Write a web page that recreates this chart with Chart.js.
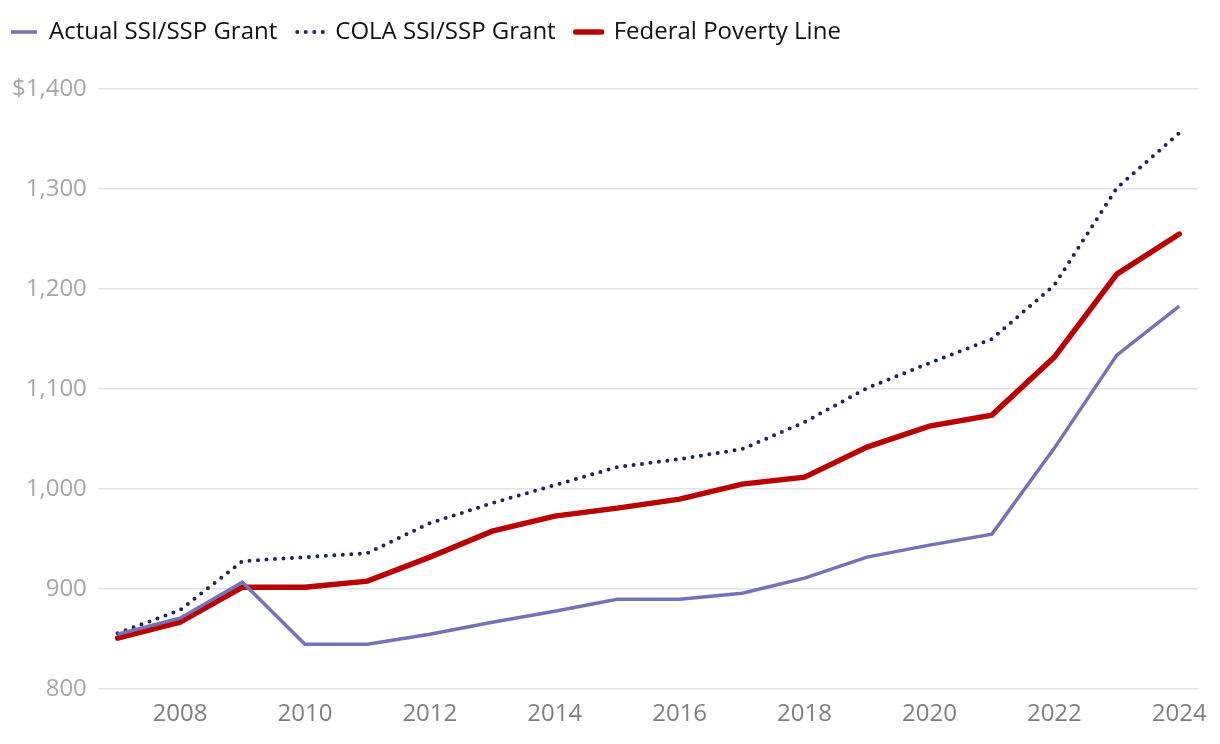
<!DOCTYPE html>
<html>
<head>
    <title>SSI/SSP Grant vs Federal Poverty Line</title>
    <script src="https://cdn.jsdelivr.net/npm/chart.js"></script>
    <style>
        html, body { margin: 0; padding: 0; background: #fff; }
        #wrap { width: 1220px; height: 744px; }
    </style>
</head>
<body>
    <div id="wrap"><canvas id="grantChart"></canvas></div>

    <script>
        const years = [2007, 2008, 2009, 2010, 2011, 2012, 2013, 2014, 2015, 2016, 2017, 2018, 2019, 2020, 2021, 2022, 2023, 2024];
        const actualGrant = [855, 871, 907, 845, 845, 855, 867, 878, 890, 890, 896, 911, 932, 944, 955, 1041, 1134, 1183];
        const colaGrant = [856, 879, 928, 932, 936, 966, 986, 1004, 1022, 1030, 1040, 1067, 1101, 1126, 1150, 1204, 1301, 1356];
        const povertyLine = [851, 867, 902, 902, 908, 932, 958, 973, 981, 990, 1005, 1012, 1042, 1063, 1074, 1132, 1215, 1255];
        const yTicks = [800, 900, 1000, 1100, 1200, 1300, 1400];

        // 组合成 {x, y}
        function toPoints(values) {
            return years.map((yr, i) => ({ x: yr, y: values[i] }));
        }

        Chart.defaults.font.family = "'Open Sans', 'Noto Sans', sans-serif";

        // 图例下方留白，并贴近左边
        const legendGap = {
            id: 'legendGap',
            beforeInit(chart) {
                const origFit = chart.legend.fit;
                chart.legend.fit = function () {
                    origFit.bind(chart.legend)();
                    this.height += 35;
                };
            },
            afterLayout(chart) {
                chart.legend.left = -9;
            }
        };

        const ctx = document.getElementById('grantChart').getContext('2d');
        new Chart(ctx, {
            type: 'line',
            data: {
                datasets: [
                    {
                        label: 'Actual SSI/SSP Grant',
                        data: toPoints(actualGrant),
                        borderColor: '#7572b6',
                        backgroundColor: '#7572b6',
                        borderWidth: 3.5,
                        pointRadius: 0,
                        tension: 0
                    },
                    {
                        label: 'COLA SSI/SSP Grant',
                        data: toPoints(colaGrant),
                        borderColor: '#1f2456',
                        backgroundColor: '#1f2456',
                        borderWidth: 4,
                        borderDash: [0, 8.5],
                        borderCapStyle: 'round',
                        pointRadius: 0,
                        tension: 0
                    },
                    {
                        label: 'Federal Poverty Line',
                        data: toPoints(povertyLine),
                        borderColor: '#b80000',
                        backgroundColor: '#b80000',
                        borderWidth: 5.5,
                        borderCapStyle: 'round',
                        pointRadius: 0,
                        tension: 0
                    }
                ]
            },
            options: {
                responsive: true,
                maintainAspectRatio: false,
                animation: false,
                layout: {
                    padding: { left: 0, right: 22, top: 0, bottom: 12 }
                },
                scales: {
                    x: {
                        type: 'linear',
                        min: 2006.7,
                        max: 2024.3,
                        grid: { display: false },
                        border: { display: false },
                        ticks: {
                            stepSize: 2,
                            includeBounds: false,
                            color: '#7f7f7f',
                            font: { size: 24 },
                            padding: 3,
                            callback: v => String(v)
                        }
                    },
                    y: {
                        min: yTicks[0],
                        max: yTicks[yTicks.length - 1],
                        grid: { color: '#e3e3e3', lineWidth: 1.5, drawTicks: false },
                        border: { display: false },
                        afterBuildTicks: axis => {
                            axis.ticks = yTicks.map(v => ({ value: v }));
                        },
                        ticks: {
                            color: '#a6a6a6',
                            font: { size: 24 },
                            padding: 12,
                            callback: v => (v === 1400 ? '$' : '') + v.toLocaleString('en-US')
                        }
                    }
                },
                plugins: {
                    legend: {
                        position: 'top',
                        align: 'start',
                        labels: {
                            usePointStyle: true,
                            pointStyle: 'line',
                            pointStyleWidth: 26,
                            color: '#111',
                            font: { size: 24 },
                            padding: 20,
                            generateLabels: chart => {
                                const items = Chart.defaults.plugins.legend.labels.generateLabels(chart);
                                items.forEach(item => {
                                    const ds = chart.data.datasets[item.datasetIndex];
                                    item.lineDash = ds.borderDash || [];
                                    item.lineCap = ds.borderCapStyle || 'butt';
                                    item.lineWidth = ds.borderWidth;
                                    item.strokeStyle = ds.borderColor;
                                });
                                return items;
                            }
                        }
                    },
                    tooltip: { enabled: false }
                }
            },
            plugins: [legendGap]
        });
    </script>
</body>
</html>
